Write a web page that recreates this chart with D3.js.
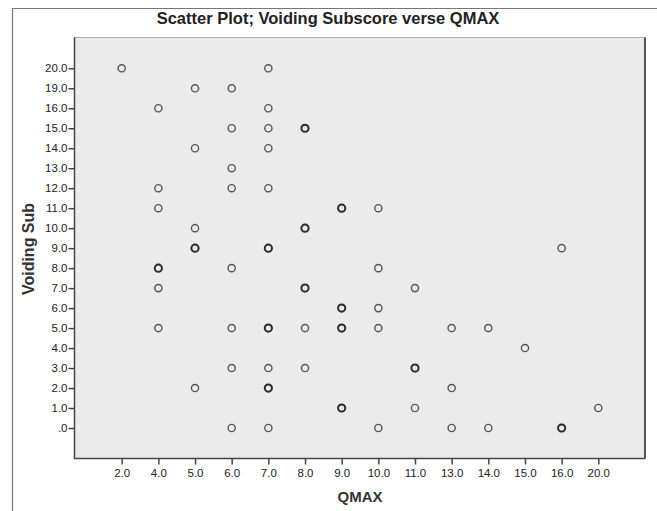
<!DOCTYPE html>
<html>
<head>
<meta charset="utf-8">
<script src="https://cdn.jsdelivr.net/npm/d3@7"></script>
<style>
  body { margin: 0; background: #fff; }
  svg { display: block; font-family: "Liberation Sans", Arial, sans-serif; }
</style>
</head>
<body>
<div class="chart"></div>
<script>
var svgWidth = 657;
var svgHeight = 511;

// categories on both axes (SPSS treats them as ordinal)
var qmaxCats = [2, 4, 5, 6, 7, 8, 9, 10, 11, 13, 14, 15, 16, 20];
var voidCats = [0, 1, 2, 3, 4, 5, 6, 7, 8, 9, 10, 11, 12, 13, 14, 15, 16, 19, 20];

// points: qmax, voiding subscore, number of overlapping cases
var qmax = [2,
  4, 4, 4, 4, 4, 4,
  5, 5, 5, 5, 5,
  6, 6, 6, 6, 6, 6, 6, 6,
  7, 7, 7, 7, 7, 7, 7, 7, 7, 7,
  8, 8, 8, 8, 8,
  9, 9, 9, 9,
  10, 10, 10, 10, 10,
  11, 11, 11,
  13, 13, 13,
  14, 14,
  15,
  16, 16,
  20];
var voiding = [20,
  16, 12, 11, 8, 7, 5,
  19, 14, 10, 9, 2,
  19, 15, 13, 12, 8, 5, 3, 0,
  20, 16, 15, 14, 12, 9, 5, 3, 2, 0,
  15, 10, 7, 5, 3,
  11, 6, 5, 1,
  11, 8, 6, 5, 0,
  7, 3, 1,
  5, 2, 0,
  5, 0,
  4,
  9, 0,
  1];
var counts = [1,
  1, 1, 1, 2, 1, 1,
  1, 1, 1, 2, 1,
  1, 1, 1, 1, 1, 1, 1, 1,
  1, 1, 1, 1, 1, 2, 2, 1, 2, 1,
  2, 2, 2, 1, 1,
  2, 2, 2, 2,
  1, 1, 1, 1, 1,
  1, 2, 1,
  1, 1, 1,
  1, 1,
  1,
  1, 2,
  1];

var points = qmax.map((q, i) => ({ q: q, v: voiding[i], n: counts[i] }));

var plot = { left: 74.5, top: 37.5, right: 645, bottom: 458.5 };

var svg = d3.select(".chart")
    .append("svg")
    .attr("width", svgWidth)
    .attr("height", svgHeight);

// outer frame
svg.append("path")
    .attr("d", `M12.5,${svgHeight} V8.5 H${svgWidth}`)
    .attr("fill", "none")
    .attr("stroke", "#777")
    .attr("stroke-width", 1.2);

// title
svg.append("text")
    .attr("x", 328)
    .attr("y", 24)
    .attr("text-anchor", "middle")
    .attr("font-size", "16.5px")
    .attr("font-weight", "bold")
    .attr("fill", "#222")
    .text("Scatter Plot; Voiding Subscore verse QMAX");

// plot background
svg.append("rect")
    .attr("x", plot.left)
    .attr("y", plot.top)
    .attr("width", plot.right - plot.left)
    .attr("height", plot.bottom - plot.top)
    .attr("fill", "#ebebeb")
    .attr("stroke", "#aaa");

// right edge is drawn darker
svg.append("line")
    .attr("x1", plot.right).attr("x2", plot.right)
    .attr("y1", plot.top).attr("y2", plot.bottom)
    .attr("stroke", "#555")
    .attr("stroke-width", 2);

var xScale = d3.scalePoint()
    .domain(qmaxCats)
    .range([121.7, 598.3]);

var yScale = d3.scalePoint()
    .domain(voidCats)
    .range([428, 68.3]);

var fmt = d => d === 0 ? ".0" : d3.format(".1f")(d);

var xAxis = svg.append("g")
    .attr("transform", `translate(0,${plot.bottom})`)
    .call(d3.axisBottom(xScale).tickSize(6).tickPadding(4).tickFormat(fmt));

var yAxis = svg.append("g")
    .attr("transform", `translate(${plot.left},0)`)
    .call(d3.axisLeft(yScale).tickSize(6).tickPadding(1).tickFormat(fmt));

[xAxis, yAxis].forEach(ax => {
    ax.select(".domain").remove();
    ax.selectAll(".tick line").attr("stroke", "#444").attr("stroke-width", 1.5);
    ax.selectAll(".tick text")
        .attr("fill", "#222")
        .attr("font-size", "11.5px")
        .attr("font-family", "'Liberation Sans', Arial, sans-serif");
});

// axis lines
svg.append("path")
    .attr("d", `M${plot.left},${plot.top} V${plot.bottom} H${plot.right}`)
    .attr("fill", "none")
    .attr("stroke", "#444")
    .attr("stroke-width", 1.5);

// points
svg.append("g").selectAll("circle")
    .data(points)
    .join("circle")
    .attr("cx", d => xScale(d.q))
    .attr("cy", d => yScale(d.v))
    .attr("r", 3.6)
    .attr("fill", "none")
    .attr("stroke", d => d.n > 1 ? "#2a2a2a" : "#555")
    .attr("stroke-width", d => d.n > 1 ? 2 : 1.4);

// axis labels
svg.append("text")
    .attr("x", 360)
    .attr("y", 502)
    .attr("text-anchor", "middle")
    .attr("font-size", "15px")
    .attr("font-weight", "bold")
    .attr("fill", "#333")
    .text("QMAX");

svg.append("text")
    .attr("transform", "rotate(-90)")
    .attr("x", -249)
    .attr("y", 34)
    .attr("text-anchor", "middle")
    .attr("font-size", "16px")
    .attr("font-weight", "bold")
    .attr("fill", "#333")
    .text("Voiding Sub");
</script>
</body>
</html>
